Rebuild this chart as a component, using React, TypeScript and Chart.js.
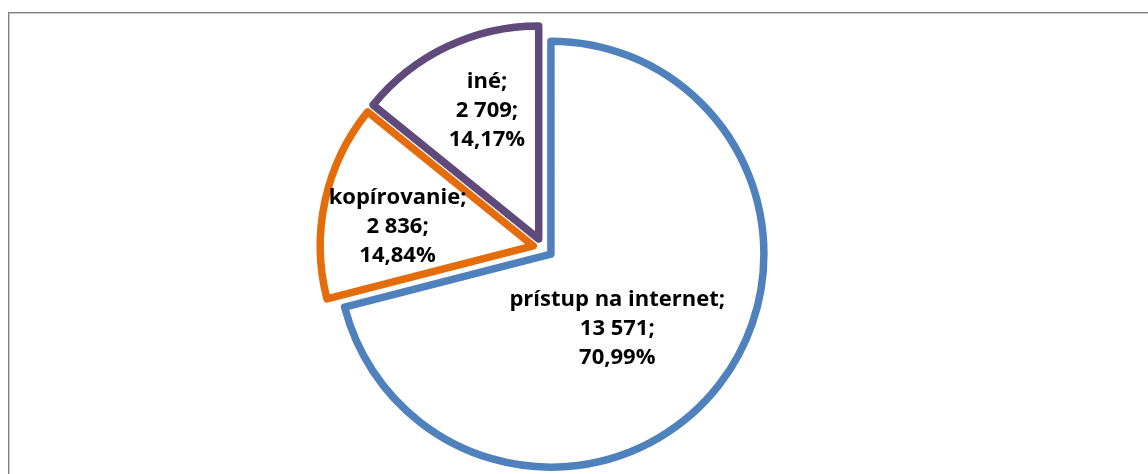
import React, { useEffect, useRef } from "react";
import { Chart, registerables } from "chart.js";

Chart.register(...registerables);

const categories = ["prístup na internet", "kopírovanie", "iné"];
const values = [13571, 2836, 2709];
const colors = ["#4F81BD", "#E46C0A", "#604A7B"];
// label placement: radial fraction of radius, angular shift (deg) from slice middle
const labelRadius = [0.47, 0.643, 0.648];
const labelShift = [10.7, -4.4, 3.5];
const EXPLODE = 10;

const W = 1148;
const H = 474;

function fmtNum(v: number) {
  return String(v).replace(/\B(?=(\d{3})+(?!\d))/g, " ");
}

const framePlugin = {
  id: "frame",
  beforeDraw(chart: any) {
    const ctx = chart.ctx;
    ctx.save();
    ctx.fillStyle = "#ffffff";
    ctx.fillRect(0, 0, W, H);
    ctx.fillStyle = "#808080";
    ctx.fillRect(8, 12, 1, H - 12);
    ctx.fillRect(8, 12, W - 8, 1);
    ctx.fillStyle = "#c8c8c8";
    ctx.fillRect(9, 13, 1, H - 13);
    ctx.fillRect(9, 13, W - 9, 1);
    ctx.restore();
  },
};

// explode every slice outward along its middle angle, keeping the same radius
const explodePlugin = {
  id: "explode",
  afterDatasetUpdate(chart: any, args: any) {
    const meta = args.meta;
    meta.data.forEach((arc: any) => {
      const mid = (arc.startAngle + arc.endAngle) / 2;
      arc.x = arc.x + EXPLODE * Math.cos(mid);
      arc.y = arc.y + EXPLODE * Math.sin(mid);
    });
  },
};

const labelPlugin = {
  id: "sliceLabels",
  afterDatasetsDraw(chart: any) {
    const ctx = chart.ctx;
    const meta = chart.getDatasetMeta(0);
    const total = values.reduce((a, b) => a + b, 0);
    ctx.save();
    ctx.font = "bold 22px 'Open Sans'";
    ctx.fillStyle = "#000000";
    ctx.textAlign = "center";
    ctx.textBaseline = "middle";
    meta.data.forEach((arc: any, i: number) => {
      const p = arc.getProps(["x", "y", "startAngle", "endAngle", "outerRadius"], true);
      const mid = (p.startAngle + p.endAngle) / 2;
      const a = mid + (labelShift[i] * Math.PI) / 180;
      const r = labelRadius[i] * p.outerRadius;
      const cx = p.x + r * Math.cos(a);
      const cy = p.y + r * Math.sin(a);
      const pct = ((values[i] / total) * 100).toFixed(2).replace(".", ",");
      const lines = [categories[i] + ";", fmtNum(values[i]) + ";", pct + "%"];
      const lh = 29;
      lines.forEach((t, k) => {
        ctx.fillText(t, cx, cy + (k - 1) * lh);
      });
    });
    ctx.restore();
  },
};

export default function App() {
  const ref = useRef<HTMLCanvasElement | null>(null);
  useEffect(() => {
    if (!ref.current) return;
    const chart = new Chart(ref.current, {
      type: "pie",
      data: {
        labels: categories,
        datasets: [
          {
            data: values,
            backgroundColor: "#ffffff",
            borderColor: colors,
            borderWidth: 7.5,
            borderJoinStyle: "round",
            offset: 0,
            clip: false,
          } as any,
        ],
      },
      options: {
        animation: false,
        responsive: false,
        radius: 213,
        layout: { padding: { left: 0, right: 62, top: 22, bottom: 0 } },
        plugins: { legend: { display: false }, tooltip: { enabled: false } },
        events: [],
      } as any,
      plugins: [framePlugin, explodePlugin, labelPlugin],
    });
    return () => chart.destroy();
  }, []);
  return (
    <div style={{ position: "absolute", left: 0, top: 0, width: W, height: H }}>
      <canvas ref={ref} width={W} height={H} style={{ width: W, height: H, display: "block" }} />
    </div>
  );
}
